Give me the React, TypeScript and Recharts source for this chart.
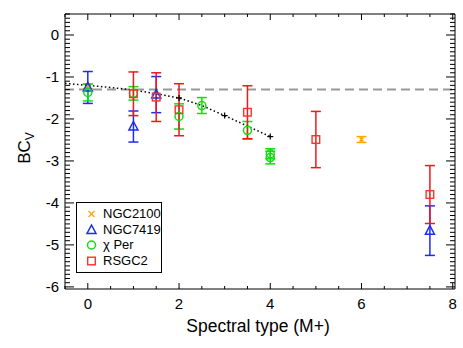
import {
  ScatterChart, Scatter, XAxis, YAxis, ErrorBar, ReferenceLine, Legend,
} from "recharts";

// spectral type (M+) / BC_V / error
const ngc2100X = [0, 6];
const ngc2100Y = [-1.22, -2.49];
const ngc2100E = [0.06, 0.07];

const ngc7419X = [0, 1, 1.5, 7.5];
const ngc7419Y = [-1.25, -2.18, -1.42, -4.66];
const ngc7419E = [0.38, 0.37, 0.43, 0.59];

const chiPerX = [0, 1, 2, 2.5, 3.5, 4, 4];
const chiPerY = [-1.37, -1.39, -1.94, -1.68, -2.27, -2.83, -2.92];
const chiPerE = [0.2, 0.16, 0.3, 0.19, 0.21, 0.12, 0.15];

const rsgc2X = [1, 1.5, 2, 3.5, 5, 7.5];
const rsgc2Y = [-1.4, -1.48, -1.78, -1.84, -2.49, -3.8];
const rsgc2E = [0.52, 0.58, 0.62, 0.63, 0.67, 0.69];

const fitX = [-0.5, 0, 0.5, 1, 1.5, 2, 2.5, 3, 3.5, 4];
const fitY = [-1.15, -1.2, -1.25, -1.31, -1.4, -1.5, -1.68, -1.92, -2.17, -2.42];
const fitMarks = [2, 3, 4];

const refBC = -1.3;

const xLabels = [0, 2, 4, 6, 8];
const yLabels = [0, -1, -2, -3, -4, -5, -6];
const xTicks = Array.from({ length: 18 }, (_, i) => -0.5 + i * 0.5);
const yTicks = Array.from({ length: 66 }, (_, i) => Math.round((-6 + i * 0.1) * 10) / 10);

const ORANGE = "#ffa500";
const BLUE = "#1a2cf0";
const GREEN = "#11dd11";
const RED = "#f01818";
const FONT = "'Liberation Sans', Arial, Helvetica, sans-serif";

const zip = (xs: number[], ys: number[], es: number[]) =>
  xs.map((x, i) => ({ x, y: ys[i], e: es[i] }));

const fitData = fitX.map((x, i) => ({ x, y: fitY[i], mark: fitMarks.includes(x) }));

const isLabel = (v: number, labels: number[]) => labels.some(l => Math.abs(l - v) < 1e-6);

function BottomTick({ x, y, payload }: any) {
  const major = isLabel(payload.value, xLabels);
  return (
    <g>
      <line x1={x} y1={y} x2={x} y2={y - (major ? 6 : 3)} stroke="#000" strokeWidth={1} />
      {major && (
        <text x={x} y={y + 20} textAnchor="middle" fontSize={15} fontFamily={FONT} fill="#000">{payload.value}</text>
      )}
    </g>
  );
}

function TopTick({ x, y, payload }: any) {
  const major = isLabel(payload.value, xLabels);
  return <line x1={x} y1={y} x2={x} y2={y + (major ? 6 : 3)} stroke="#000" strokeWidth={1} />;
}

function LeftTick({ x, y, payload }: any) {
  const major = isLabel(payload.value, yLabels);
  return (
    <g>
      <line x1={x} y1={y} x2={x + (major ? 9 : 5)} y2={y} stroke="#000" strokeWidth={1} />
      {major && (
        <text x={x - 6} y={y + 5.5} textAnchor="end" fontSize={15} fontFamily={FONT} fill="#000">{payload.value}</text>
      )}
    </g>
  );
}

function RightTick({ x, y, payload }: any) {
  const major = isLabel(payload.value, yLabels);
  return <line x1={x} y1={y} x2={x - (major ? 9 : 5)} y2={y} stroke="#000" strokeWidth={1} />;
}

function Cross({ cx, cy, color = ORANGE, s = 3 }: any) {
  return (
    <g stroke={color} strokeWidth={1.3}>
      <line x1={cx - s} y1={cy - s} x2={cx + s} y2={cy + s} />
      <line x1={cx - s} y1={cy + s} x2={cx + s} y2={cy - s} />
    </g>
  );
}

function Triangle({ cx, cy, color = BLUE }: any) {
  return <polygon points={`${cx},${cy - 5} ${cx - 4.5},${cy + 3.5} ${cx + 4.5},${cy + 3.5}`} fill="none" stroke={color} strokeWidth={1.5} />;
}

function Circle({ cx, cy, color = GREEN }: any) {
  return <circle cx={cx} cy={cy} r={4} fill="none" stroke={color} strokeWidth={1.5} />;
}

function Square({ cx, cy, color = "#ff3030" }: any) {
  return <rect x={cx - 3.8} y={cy - 3.8} width={7.6} height={7.6} fill="none" stroke={color} strokeWidth={1.4} />;
}

function Plus({ cx, cy, payload }: any) {
  if (!payload.mark) return <g />;
  return (
    <g stroke="#000" strokeWidth={1.2}>
      <line x1={cx - 3} y1={cy} x2={cx + 3} y2={cy} />
      <line x1={cx} y1={cy - 3} x2={cx} y2={cy + 3} />
    </g>
  );
}

function YLabel() {
  return (
    <text transform="translate(30,148) rotate(-90)" textAnchor="middle" fontSize={17} fontFamily={FONT} fill="#000">
      BC<tspan fontSize={12} dy={4}>V</tspan>
    </text>
  );
}

function XLabel() {
  return (
    <text x={258} y={332} textAnchor="middle" fontSize={17.5} fontFamily={FONT} fill="#000">
      Spectral type (M+)
    </text>
  );
}

const legendItems = [
  { name: "NGC2100", Shape: Cross, color: ORANGE },
  { name: "NGC7419", Shape: Triangle, color: BLUE },
  { name: "χ Per", Shape: Circle, color: GREEN },
  { name: "RSGC2", Shape: Square, color: "#ff3030" },
];

function LegendBox() {
  return (
    <div style={{ width: 86, height: 71, border: "1px solid #000", background: "#fff", boxSizing: "border-box", paddingTop: 3 }}>
      {legendItems.map(({ name, Shape, color }) => (
        <div key={name} style={{ display: "flex", alignItems: "center", height: 15.8 }}>
          <svg width={26} height={14} style={{ display: "block" }}>
            <Shape cx={14.5} cy={7} color={color} />
          </svg>
          <span style={{ fontFamily: FONT, fontSize: 13, color: "#000", lineHeight: "14px" }}>{name}</span>
        </div>
      ))}
    </div>
  );
}

export default function App() {
  return (
    <div style={{ position: "absolute", left: 0, top: 0, width: 463, height: 348, background: "#fff" }}>
      <ScatterChart width={463} height={348} margin={{ top: 0, right: 0, bottom: 0, left: 0 }}>
        <XAxis xAxisId="b" type="number" dataKey="x" domain={[-0.5, 8.05]} ticks={xTicks} interval={0}
          allowDataOverflow height={59} tickSize={0} tickMargin={0} tick={<BottomTick />} axisLine={{ stroke: "#000" }}
          label={<XLabel />} />
        <XAxis xAxisId="t" type="number" dataKey="x" orientation="top" domain={[-0.5, 8.05]} ticks={xTicks} interval={0}
          allowDataOverflow height={14} tickSize={0} tickMargin={0} tick={<TopTick />} axisLine={{ stroke: "#000" }} />
        <YAxis yAxisId="l" type="number" dataKey="y" domain={[-6.05, 0.5]} ticks={yTicks} interval={0}
          allowDataOverflow width={65} tickSize={0} tickMargin={0} tick={<LeftTick />} axisLine={{ stroke: "#000" }}
          label={<YLabel />} />
        <YAxis yAxisId="r" type="number" dataKey="y" orientation="right" domain={[-6.05, 0.5]} ticks={yTicks} interval={0}
          allowDataOverflow width={8} tickSize={0} tickMargin={0} tick={<RightTick />} axisLine={{ stroke: "#000" }} />

        <ReferenceLine xAxisId="b" yAxisId="l" y={refBC} stroke="#999" strokeWidth={2} strokeDasharray="9 5" />

        <Scatter xAxisId="b" yAxisId="l" data={fitData} shape={<Plus />} isAnimationActive={false}
          line={{ stroke: "#000", strokeWidth: 1.5, strokeDasharray: "1.5 2.5" }} lineType="joint" legendType="none" />

        <Scatter xAxisId="b" yAxisId="l" name="NGC2100" data={zip(ngc2100X, ngc2100Y, ngc2100E)}
          shape={<Cross s={2} />} isAnimationActive={false}>
          <ErrorBar dataKey="e" direction="y" width={5} stroke={ORANGE} strokeWidth={1.5} />
        </Scatter>
        <Scatter xAxisId="b" yAxisId="l" name="NGC7419" data={zip(ngc7419X, ngc7419Y, ngc7419E)}
          shape={<Triangle />} isAnimationActive={false}>
          <ErrorBar dataKey="e" direction="y" width={5} stroke={BLUE} strokeWidth={1.5} />
        </Scatter>
        <Scatter xAxisId="b" yAxisId="l" name="χ Per" data={zip(chiPerX, chiPerY, chiPerE)}
          shape={<Circle />} isAnimationActive={false}>
          <ErrorBar dataKey="e" direction="y" width={5} stroke={GREEN} strokeWidth={1.5} />
        </Scatter>
        <Scatter xAxisId="b" yAxisId="l" name="RSGC2" data={zip(rsgc2X, rsgc2Y, rsgc2E)}
          shape={<Square />} isAnimationActive={false}>
          <ErrorBar dataKey="e" direction="y" width={5} stroke={RED} strokeWidth={1.5} />
        </Scatter>

        <Legend layout="vertical" align="center" verticalAlign="middle" content={<LegendBox />}
          wrapperStyle={{ left: 76, top: 202, width: 86, height: 71 }} />
      </ScatterChart>
    </div>
  );
}
